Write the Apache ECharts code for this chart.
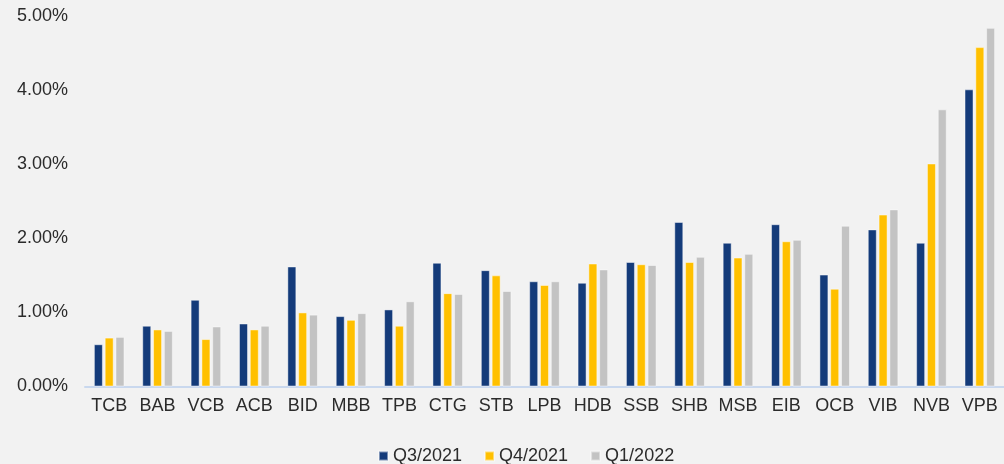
<!DOCTYPE html>
<html>
<head>
<meta charset="utf-8">
<script src="https://cdn.jsdelivr.net/npm/echarts@6/dist/echarts.min.js"></script>
<style>
  html, body { margin: 0; padding: 0; background: #f2f2f2; }
  #chart { width: 1004px; height: 464px; }
</style>
</head>
<body>
<div id="chart"></div>
<script>
  var banks = ['TCB', 'BAB', 'VCB', 'ACB', 'BID', 'MBB', 'TPB', 'CTG', 'STB', 'LPB',
               'HDB', 'SSB', 'SHB', 'MSB', 'EIB', 'OCB', 'VIB', 'NVB', 'VPB'];
  // values in %
  var q3_2021 = [0.57, 0.82, 1.17, 0.85, 1.62, 0.95, 1.04, 1.67, 1.57, 1.42,
                 1.40, 1.68, 2.22, 1.94, 2.19, 1.51, 2.12, 1.94, 4.01];
  var q4_2021 = [0.66, 0.77, 0.64, 0.77, 1.00, 0.90, 0.82, 1.26, 1.50, 1.37,
                 1.66, 1.65, 1.68, 1.74, 1.96, 1.32, 2.32, 3.01, 4.58];
  var q1_2022 = [0.67, 0.75, 0.81, 0.82, 0.97, 0.99, 1.15, 1.25, 1.29, 1.42,
                 1.58, 1.64, 1.75, 1.79, 1.98, 2.17, 2.39, 3.74, 4.84];
  var seriesNames = ['Q3/2021', 'Q4/2021', 'Q1/2022'];
  var colors = ['#143b7a', '#ffc000', '#c3c3c3'];

  var chart = echarts.init(document.getElementById('chart'));
  var font = 'Liberation Sans, Arial, sans-serif';

  function bar(name, data, color) {
    return {
      name: name,
      type: 'bar',
      data: data,
      barWidth: 9,
      barGap: '20%',
      itemStyle: {
        color: color,
        borderColor: 'rgba(255,255,255,0.45)',
        borderWidth: 1
      }
    };
  }

  var option = {
    backgroundColor: '#f2f2f2',
    animation: false,
    color: colors,
    grid: { left: 85, right: 0, top: 16, bottom: 77.5 },
    legend: {
      data: seriesNames,
      top: 442,
      left: 373,
      itemWidth: 9,
      itemHeight: 9,
      itemGap: 22,
      icon: 'rect',
      textStyle: { fontFamily: font, fontSize: 18, color: '#2b2b2b' }
    },
    xAxis: {
      type: 'category',
      data: banks,
      axisLine: { lineStyle: { color: '#c9d8ee', width: 2 } },
      axisTick: { show: false },
      axisLabel: { fontFamily: font, fontSize: 18, color: '#2b2b2b', margin: 11, interval: 0 }
    },
    yAxis: {
      type: 'value',
      min: 0,
      max: 5,
      interval: 1,
      splitLine: { show: false },
      axisLine: { show: false },
      axisTick: { show: false },
      axisLabel: {
        fontFamily: font, fontSize: 18, color: '#2b2b2b', margin: 17,
        formatter: function (v) { return v.toFixed(2) + '%'; }
      }
    },
    series: [
      bar(seriesNames[0], q3_2021, colors[0]),
      bar(seriesNames[1], q4_2021, colors[1]),
      bar(seriesNames[2], q1_2022, colors[2])
    ]
  };

  chart.setOption(option);
  window.addEventListener('resize', chart.resize);
</script>
</body>
</html>
